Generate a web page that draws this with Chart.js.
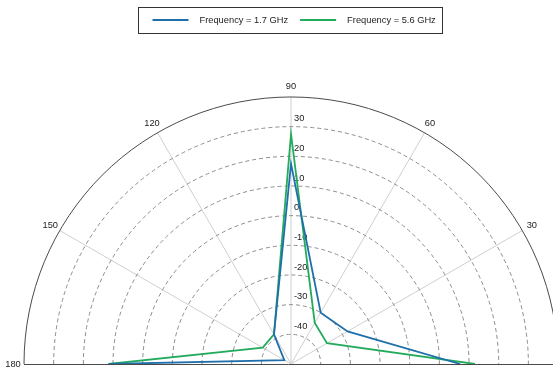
<!DOCTYPE html>
<html>
<head>
<meta charset="utf-8">
<script src="https://cdn.jsdelivr.net/npm/chart.js@4/dist/chart.umd.min.js"></script>
<style>
  html, body { margin: 0; padding: 0; background: #fff; }
  canvas { display: block; }
</style>
</head>
<body>
<canvas id="polarChart" width="553" height="373"></canvas>
<script>
// Angles (degrees) and gain values (dB)
const angles = [0, 30, 60, 90, 120, 150, 180];
const gain17 = [7, -28, -30, 17.5, -38.5, -47.4, 11.5];
const gain56 = [12, -36, -34, 27.5, -38.5, -39, 11.5];
const seriesNames = ['Frequency = 1.7 GHz', 'Frequency = 5.6 GHz'];
const seriesColors = ['#1f6fab', '#23ab5c'];

// Radial axis
const rMin = -50;
const rMax = 40;
const ringTicks = [-40, -30, -20, -10, 0, 10, 20, 30];
const spokeAngles = [30, 60, 90, 120, 150];
const angleLabels = [30, 60, 90, 120, 150, 180];

const FONT = '9.3px "Liberation Sans", Arial, sans-serif';

function toXY(angle, value) {
    const r = value - rMin;
    const a = angle * Math.PI / 180;
    return { x: r * Math.cos(a), y: r * Math.sin(a) };
}

function buildPoints(values) {
    return angles.map((a, i) => toXY(a, values[i]));
}

// Draws the half-polar grid and labels using the chart's scales
const polarGrid = {
    id: 'polarGrid',
    beforeDatasetsDraw(chart) {
        const ctx = chart.ctx;
        const xs = chart.scales.x;
        const ys = chart.scales.y;
        const cx = xs.getPixelForValue(0);
        const cy = ys.getPixelForValue(0);
        const unit = xs.getPixelForValue(1) - cx;
        const R = (rMax - rMin) * unit;

        ctx.save();

        // spokes
        ctx.strokeStyle = '#cfcfcf';
        ctx.lineWidth = 1;
        spokeAngles.forEach(a => {
            const t = a * Math.PI / 180;
            ctx.beginPath();
            ctx.moveTo(cx, cy);
            ctx.lineTo(cx + R * Math.cos(t), cy - R * Math.sin(t));
            ctx.stroke();
        });

        // dashed rings
        ctx.strokeStyle = '#8c8c8c';
        ctx.setLineDash([4, 3]);
        ringTicks.forEach(v => {
            ctx.beginPath();
            ctx.arc(cx, cy, (v - rMin) * unit, Math.PI, 2 * Math.PI);
            ctx.stroke();
        });
        ctx.setLineDash([]);

        // outer arc and baseline
        ctx.strokeStyle = '#4a4a4a';
        ctx.beginPath();
        ctx.arc(cx, cy, R, Math.PI, 2 * Math.PI);
        ctx.stroke();
        ctx.beginPath();
        ctx.moveTo(cx - R, cy + 0.5);
        ctx.lineTo(chart.width, cy + 0.5);
        ctx.stroke();

        // angle labels
        ctx.font = FONT;
        ctx.fillStyle = '#222';
        ctx.textAlign = 'center';
        ctx.textBaseline = 'middle';
        const rl = R + 11;
        angleLabels.forEach(a => {
            const t = a * Math.PI / 180;
            ctx.fillText(String(a), cx + rl * Math.cos(t), cy - rl * Math.sin(t));
        });

        // radial tick labels
        ctx.textAlign = 'left';
        ringTicks.forEach(v => {
            ctx.fillText(String(v), cx + 3, cy - (v - rMin) * unit - 8);
        });

        ctx.restore();
    }
};

// Boxed legend at the top
const boxLegend = {
    id: 'boxLegend',
    afterDraw(chart) {
        const ctx = chart.ctx;
        ctx.save();
        ctx.font = FONT;
        const lineLen = 36, gap = 11, itemGap = 12, padL = 14, padR = 7;
        const widths = seriesNames.map(n => ctx.measureText(n).width);
        let total = padL + padR + itemGap * (seriesNames.length - 1);
        widths.forEach(w => { total += lineLen + gap + w; });
        const left = 138.5;
        const top = 7.5, h = 26, mid = 20;
        ctx.strokeStyle = '#333';
        ctx.lineWidth = 1;
        ctx.strokeRect(left, top, Math.round(total), h);
        let x = left + padL;
        seriesNames.forEach((n, i) => {
            ctx.strokeStyle = seriesColors[i];
            ctx.lineWidth = 2;
            ctx.beginPath();
            ctx.moveTo(x, mid);
            ctx.lineTo(x + lineLen, mid);
            ctx.stroke();
            x += lineLen + gap;
            ctx.fillStyle = '#222';
            ctx.textAlign = 'left';
            ctx.textBaseline = 'middle';
            ctx.fillText(n, x, mid);
            x += widths[i] + itemGap;
        });
        ctx.restore();
    }
};

const chartCtx = document.getElementById('polarChart').getContext('2d');
new Chart(chartCtx, {
    type: 'scatter',
    data: {
        datasets: [{
            label: seriesNames[0],
            data: buildPoints(gain17),
            borderColor: seriesColors[0],
            backgroundColor: seriesColors[0],
            borderWidth: 1.8,
            showLine: true,
            pointRadius: 0
        }, {
            label: seriesNames[1],
            data: buildPoints(gain56),
            borderColor: seriesColors[1],
            backgroundColor: seriesColors[1],
            borderWidth: 1.8,
            showLine: true,
            pointRadius: 0
        }]
    },
    options: {
        responsive: false,
        animation: false,
        devicePixelRatio: 1,
        layout: {
            padding: { left: 24, right: 0, top: 97, bottom: 9 }
        },
        plugins: {
            legend: { display: false },
            tooltip: { enabled: false }
        },
        scales: {
            x: { type: 'linear', display: false, min: -(rMax - rMin), max: 88.3 },
            y: { type: 'linear', display: false, min: 0, max: rMax - rMin }
        }
    },
    plugins: [polarGrid, boxLegend]
});
</script>
</body>
</html>
